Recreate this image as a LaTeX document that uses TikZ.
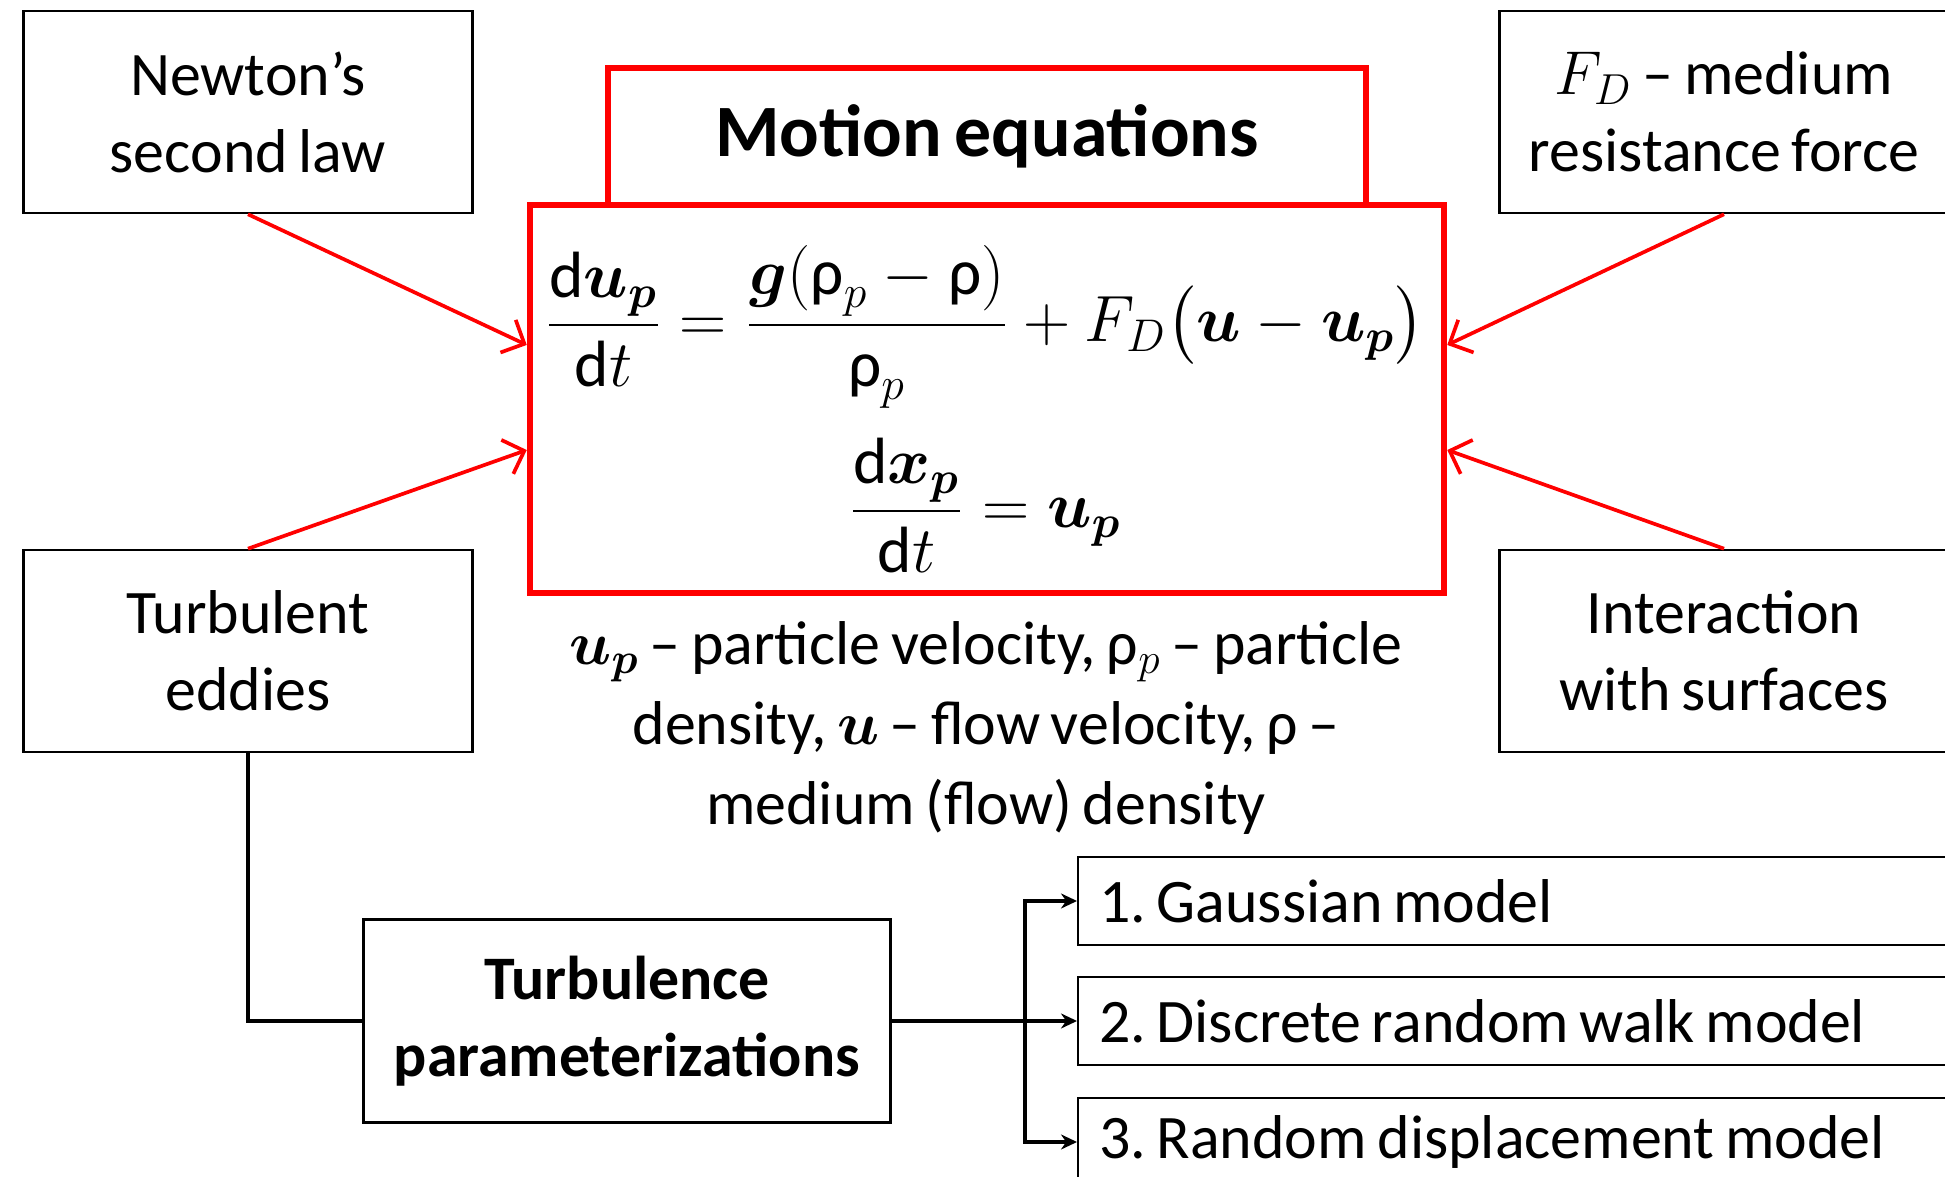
\RequirePackage{fix-cm}
\documentclass[tikz,border=0pt]{standalone}
\usepackage{amsmath, amssymb}
\usepackage{fontspec}
\setmainfont[WordSpace=0.75]{Carlito}
\usepackage{tikz}
\usetikzlibrary{arrows.meta, positioning, calc}
\definecolor{eqred}{HTML}{FF0000}
\newcommand{\boxfont}{\fontsize{17.6}{21.9}\selectfont}
\newcommand{\rh}{\text{ρ}}
\frenchspacing

\begin{document}
\begin{tikzpicture}[
        x=0.01cm, y=-0.01cm,
        box/.style={
            rectangle,
            draw=black,
            line width=0.7pt,
            font=\boxfont,
            align=center,
            minimum width=4.49cm,
            minimum height=2.02cm,
            inner sep=0pt
        },
        redbox/.style={rectangle, draw=eqred, line width=1.7pt, inner sep=0pt},
        model/.style={
            rectangle,
            draw=black,
            line width=0.7pt,
            font=\boxfont,
            anchor=west,
            align=flush left,
            text width=9.58cm,
            inner xsep=0.21cm,
            inner ysep=0pt,
            minimum height=0.88cm
        },
        feed/.style={eqred, line width=1.05pt, -{Straight Barb[length=1.8mm, width=3.6mm]}},
        link/.style={black, line width=1pt, -{Stealth[length=1.6mm, width=1.5mm]}}
    ]
    \useasboundingbox (0,0) rectangle (1945,1177);

    % Sources of the equations (corners)
    \node[box] (newton) at (248,112) {Newton’s\\second law};
    \node[box] (drag) at (1724,112) {$F_D$ – medium\\resistance force};
    \node[box] (eddies) at (248,651) {Turbulent\\eddies};
    \node[box] (surf) at (1724,651) {Interaction\\with surfaces};

    % Central block: title and equations
    \node[redbox, minimum width=7.58cm, minimum height=1.37cm, font=\fontsize{21}{25}\selectfont\bfseries] (title) at (987,136.5) {Motion equations};
    \node[redbox, minimum width=9.14cm, minimum height=3.88cm] (eqs) at (987,399) {};
    \node[anchor=base, font=\fontsize{18.6}{22}\selectfont] (eqa) at (985,341.5)
        {$\displaystyle \frac{\mathrm{d}\boldsymbol{u_p}}{\mathrm{d}t} = \frac{\boldsymbol{g}(\rh_p - \rh)}{\rh_p} + F_D\bigl(\boldsymbol{u} - \boldsymbol{u_p}\bigr)$};
    \node[anchor=base, font=\fontsize{18.6}{22}\selectfont] (eqb) at (985,527.5)
        {$\displaystyle \frac{\mathrm{d}\boldsymbol{x_p}}{\mathrm{d}t} = \boldsymbol{u_p}$};

    % Notation under the block
    \node[align=center, font=\fontsize{17.6}{22.7}\selectfont] (legend) at (986,728)
        {$\boldsymbol{u_p}$ – particle velocity, ρ$_p$ – particle\\
         density, $\boldsymbol{u}$ – flow velocity, ρ –\\
         medium (flow) density};

    % Turbulence models
    \node[box, minimum width=5.27cm, minimum height=2.03cm, font=\boxfont\bfseries] (param) at (627,1021) {Turbulence\\parameterizations};
    \node[model] (gauss) at (1077,901) {1. Gaussian model};
    \node[model] (drw) at (1077,1021) {2. Discrete random walk model};
    \node[model] (rdm) at (1077,1142) {3. Random displacement model};

    % Red inputs into the equations
    \coordinate (inNW) at ([yshift=0.54cm]eqs.west);
    \coordinate (inSW) at ([yshift=-0.51cm]eqs.west);
    \coordinate (inNE) at ([yshift=0.54cm]eqs.east);
    \coordinate (inSE) at ([yshift=-0.51cm]eqs.east);
    \foreach \a/\b in {newton.south/inNW, eddies.north/inSW, drag.south/inNE, surf.north/inSE}
        \draw[feed] (\a) -- (\b);

    % Black links to the models
    \draw[black, line width=1pt] (eddies.south) |- (param.west);
    \draw[link] (param.east) -- (drw.west);
    \coordinate (fork) at (1025,1021);
    \foreach \m in {gauss, rdm}
        \draw[link] (fork) |- (\m.west);

\end{tikzpicture}
\end{document}
